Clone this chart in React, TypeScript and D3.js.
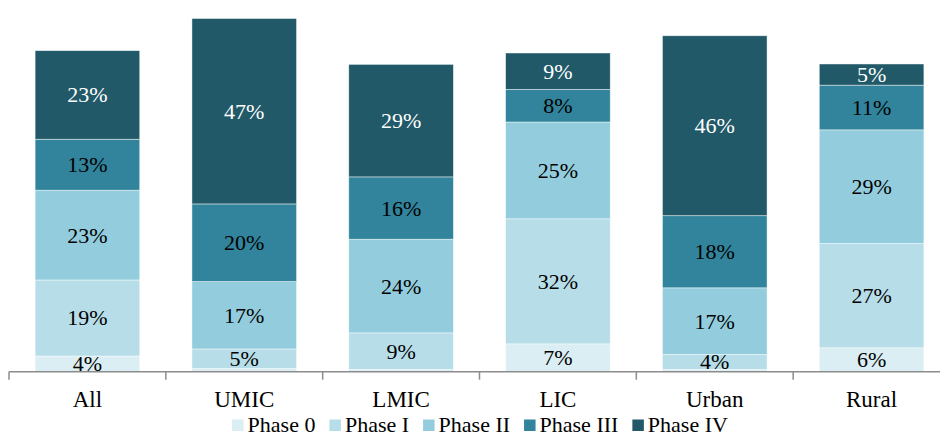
import React, { useEffect, useRef } from 'react';
import * as d3 from 'd3';

const categories = ['All', 'UMIC', 'LMIC', 'LIC', 'Urban', 'Rural'];
const phases = ['Phase 0', 'Phase I', 'Phase II', 'Phase III', 'Phase IV'];

// share of each group by phase (%)
const phase0 = [4.0, 0.8, 0.6, 7.1, 0.6, 6.1];
const phase1 = [19.4, 5.0, 9.3, 31.9, 3.8, 26.6];
const phase2 = [22.9, 17.2, 23.9, 24.7, 17.0, 29.0];
const phase3 = [13.0, 19.8, 15.9, 8.3, 18.4, 11.4];
const phase4 = [22.6, 47.3, 28.7, 9.3, 45.9, 5.4];

const colors = ['#DAEEF3', '#B7DDE8', '#93CDDD', '#31849B', '#215968'];
const labelColors = ['#000', '#000', '#000', '#000', '#fff'];

const W = 940;
const H = 437;
const FONT = '"Liberation Serif", "Times New Roman", serif';

const App: React.FC = () => {
  const svgRef = useRef<SVGSVGElement>(null);

  useEffect(() => {
    if (!svgRef.current) return;
    const svg = d3.select(svgRef.current);
    svg.selectAll('*').remove();

    const rows = categories.map((c, i) => ({
      cat: c,
      'Phase 0': phase0[i],
      'Phase I': phase1[i],
      'Phase II': phase2[i],
      'Phase III': phase3[i],
      'Phase IV': phase4[i],
    }));

    const stack = d3.stack<any>().keys(phases);
    const series = stack(rows);

    const x = d3.scaleBand()
      .domain(categories)
      .range([9, 950])
      .paddingInner(0.333)
      .paddingOuter(0.1665);

    const y = d3.scaleLinear().domain([0, 90]).range([371.7, 18.9]);

    // Bars
    const layers = svg.append('g')
      .selectAll('g')
      .data(series)
      .enter()
      .append('g')
      .attr('fill', (_, i) => colors[i]);

    layers.selectAll('rect')
      .data(d => d)
      .enter()
      .append('rect')
      .attr('x', d => x(d.data.cat) || 0)
      .attr('width', x.bandwidth())
      .attr('y', d => y(d[1]))
      .attr('height', d => y(d[0]) - y(d[1]))
      .attr('stroke', '#ffffff')
      .attr('stroke-opacity', 0.6)
      .attr('stroke-width', 0.75);

    // Segment labels
    series.forEach((s, si) => {
      svg.append('g')
        .selectAll('text')
        .data(s.filter(d => d[1] - d[0] >= 1))
        .enter()
        .append('text')
        .attr('x', d => (x(d.data.cat) || 0) + x.bandwidth() / 2)
        .attr('y', d => (y(d[0]) + y(d[1])) / 2)
        .attr('text-anchor', 'middle')
        .attr('dominant-baseline', 'central')
        .style('font-family', FONT)
        .style('font-size', '22px')
        .style('fill', labelColors[si])
        .text(d => `${Math.round(d[1] - d[0])}%`);
    });

    // X axis
    const axisY = y(0);
    const edge = (x.step() - x.bandwidth()) / 2;
    const axis = svg.append('g');
    axis.append('line')
      .attr('x1', x.range()[0])
      .attr('x2', x.range()[1])
      .attr('y1', axisY)
      .attr('y2', axisY)
      .attr('stroke', '#8C8C8C')
      .attr('stroke-width', 1.5);

    const tickPos = categories.map(c => (x(c) || 0) - edge).concat([x.range()[1]]);
    axis.selectAll('.tick')
      .data(tickPos)
      .enter()
      .append('line')
      .attr('x1', d => d)
      .attr('x2', d => d)
      .attr('y1', axisY)
      .attr('y2', axisY + 8)
      .attr('stroke', '#8C8C8C')
      .attr('stroke-width', 1.5);

    axis.selectAll('.lbl')
      .data(categories)
      .enter()
      .append('text')
      .attr('x', d => (x(d) || 0) + x.bandwidth() / 2)
      .attr('y', 407)
      .attr('text-anchor', 'middle')
      .style('font-family', FONT)
      .style('font-size', '23px')
      .style('fill', '#000')
      .text(d => d);

    // Legend
    const legend = svg.append('g');
    const items = phases.map((p, i) => {
      const g = legend.append('g');
      g.append('rect')
        .attr('width', 11.5)
        .attr('height', 11.5)
        .attr('y', 419.5)
        .attr('fill', colors[i]);
      const t = g.append('text')
        .attr('x', 15.5)
        .attr('y', 431.5)
        .style('font-family', FONT)
        .style('font-size', '22px')
        .style('fill', '#000')
        .text(p);
      const w = (t.node() as SVGTextElement).getComputedTextLength();
      return { g, w: 15.5 + w };
    });
    const gap = 14;
    const total = d3.sum(items, d => d.w) + gap * (items.length - 1);
    let cx = 480 - total / 2;
    items.forEach(it => {
      it.g.attr('transform', `translate(${cx},0)`);
      cx += it.w + gap;
    });
  }, []);

  return (
    <svg
      ref={svgRef}
      width={W}
      height={H}
      style={{ position: 'absolute', left: 0, top: 0, background: '#fff' }}
    />
  );
};

export default App;
